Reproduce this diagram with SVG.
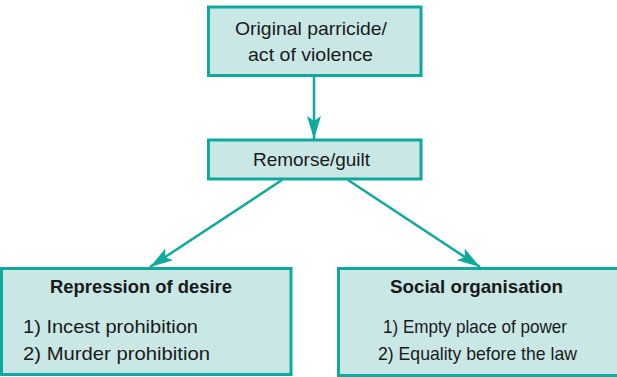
<svg xmlns="http://www.w3.org/2000/svg" width="617" height="377" viewBox="0 0 617 377">
<style>
.box{fill:#c9e7e5;stroke:#0fa99d;stroke-width:3}
.t{font-family:"Liberation Sans",Arial,sans-serif;font-size:19px;fill:#1a1a1a}
.b{font-weight:bold}
.c{stroke:#0fa99d;stroke-width:2.5;fill:none}
</style>
<defs>
<marker id="ah" markerUnits="userSpaceOnUse" markerWidth="26" markerHeight="16" viewBox="-24 -8 26 16" refX="0" refY="0" orient="auto">
<path d="M0,0 L-23,-7 L-18,0 L-23,7 Z" fill="#0fa99d"/>
</marker>
</defs>
<rect width="617" height="377" fill="#ffffff"/>
<g id="connectors">
<line class="c" x1="314" y1="76" x2="314" y2="139" marker-end="url(#ah)"/>
<line class="c" x1="282" y1="180" x2="150" y2="267" marker-end="url(#ah)"/>
<line class="c" x1="348" y1="180" x2="480" y2="267" marker-end="url(#ah)"/>
</g>
<g id="node-original">
<rect class="box" x="208.5" y="7" width="212.5" height="68.5"/>
<text class="t" x="311" y="35" text-anchor="middle" textLength="152" lengthAdjust="spacingAndGlyphs">Original parricide/</text>
<text class="t" x="310.5" y="61" text-anchor="middle" textLength="125" lengthAdjust="spacingAndGlyphs">act of violence</text>
</g>
<g id="node-remorse">
<rect class="box" x="208.5" y="140" width="212.5" height="39"/>
<text class="t" x="311.5" y="166" text-anchor="middle" textLength="117" lengthAdjust="spacingAndGlyphs">Remorse/guilt</text>
</g>
<g id="node-repression">
<rect class="box" x="1.5" y="268.5" width="289.5" height="106"/>
<text class="t b" x="141" y="293" text-anchor="middle" textLength="182" lengthAdjust="spacingAndGlyphs">Repression of desire</text>
<text class="t" x="23" y="333" textLength="175" lengthAdjust="spacingAndGlyphs">1) Incest prohibition</text>
<text class="t" x="23" y="360" textLength="187" lengthAdjust="spacingAndGlyphs">2) Murder prohibition</text>
</g>
<g id="node-social">
<rect class="box" x="338.5" y="268.5" width="282" height="107"/>
<text class="t b" x="476.5" y="293" text-anchor="middle" textLength="173" lengthAdjust="spacingAndGlyphs">Social organisation</text>
<text class="t" x="383" y="333" textLength="184" lengthAdjust="spacingAndGlyphs">1) Empty place of power</text>
<text class="t" x="378" y="360" textLength="199" lengthAdjust="spacingAndGlyphs">2) Equality before the law</text>
</g>
</svg>
